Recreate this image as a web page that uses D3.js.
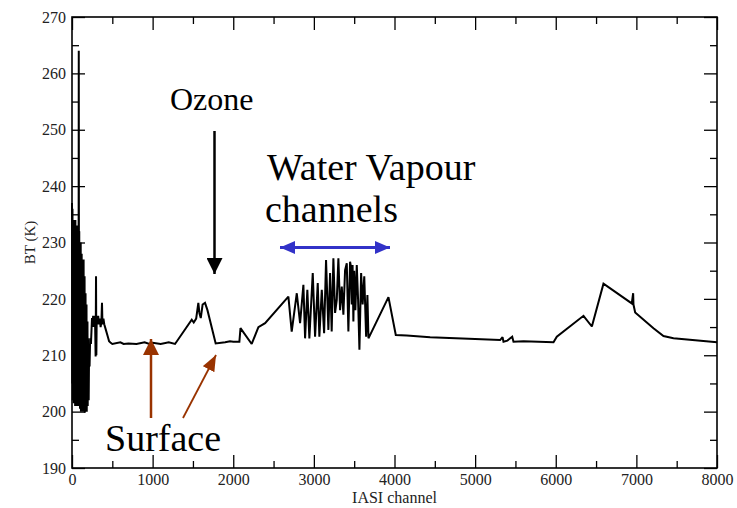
<!DOCTYPE html>
<html>
<head>
<meta charset="utf-8">
<script src="https://cdn.jsdelivr.net/npm/d3@7"></script>
<style>
  html, body { margin: 0; padding: 0; background: #fff; }
  svg { display: block; }
  text { font-family: "Liberation Serif", "Times New Roman", serif; }
</style>
</head>
<body>
<svg id="chart" width="737" height="508"></svg>
<script>
// IASI channel index and brightness temperature (K)
const channels = [
  0, 3, 6, 9, 12, 15, 18, 21, 24, 27, 30, 33, 36, 39, 42, 45, 48, 51, 54, 57,
  60, 63, 66, 69, 72, 75, 78, 81, 84, 87, 90, 93, 96, 99, 102, 105, 108, 111, 114, 117,
  120, 123, 126, 129, 132, 135, 138, 141, 144, 147, 150, 153, 156, 159, 162, 165, 168, 171, 174, 177,
  180, 183, 186, 189, 192, 195, 198, 201, 204, 207, 212, 218, 225, 235, 248, 255, 262, 270, 278, 286,
  293, 298, 302, 306, 315, 325, 335, 345, 355, 365, 372, 378, 390, 400, 420, 440, 460, 480, 500, 600,
  640, 700, 800, 900, 960, 1000, 1100, 1200, 1278, 1485, 1510, 1540, 1567, 1580, 1597, 1620, 1650, 1680, 1782, 1900,
  1960, 2000, 2076, 2090, 2105, 2229, 2312, 2395, 2684, 2725, 2788, 2829, 2870, 2891, 2919, 2944, 2986, 3015, 3048, 3068,
  3098, 3127, 3151, 3180, 3201, 3221, 3242, 3263, 3284, 3304, 3325, 3346, 3366, 3387, 3408, 3428, 3449, 3460, 3470, 3480,
  3490, 3500, 3515, 3532, 3548, 3565, 3586, 3605, 3625, 3648, 3664, 3677, 3925, 4016, 4152, 4442, 5000, 5310, 5340, 5352,
  5400, 5460, 5476, 5600, 5972, 6013, 6344, 6448, 6592, 6943, 6960, 6964, 6985, 7212, 7336, 7460, 8000
];
const bt = [
  237, 205, 236, 202, 230, 203, 234, 201.5, 228, 202, 233, 203, 225, 201, 234, 204, 229, 201, 232, 206,
  227, 201, 233, 203, 230, 201, 226, 205, 264, 201, 232, 203, 229, 200.5, 227, 204, 230, 200, 225, 203,
  228, 201, 222, 205, 226, 200, 224, 202, 227, 200, 221, 204, 224, 199.8, 219, 202, 221, 200, 217, 203,
  219, 200, 214, 205, 216, 201, 213, 204, 211, 202, 211, 208, 213, 212, 216.6, 215, 217, 215, 217, 216,
  209.8, 224, 210, 216, 215.5, 217, 215.5, 216.5, 215, 216, 219.3, 215.5, 216.5, 215.5, 214.5, 213.5, 212.5, 212.2, 212, 212.3,
  212, 212.1, 212, 212.3, 212, 212.2, 212, 212.3, 212, 216.3, 215.8, 216.5, 219.3, 217.5, 216.6, 219, 219.3, 218, 212.1, 212.3,
  212.5, 212.4, 212.4, 214.8, 214.5, 212, 215, 215.7, 220.4, 214.2, 221, 215.7, 222.5, 213, 221.6, 213, 224.6, 213.3, 222.8, 213.3,
  221.6, 213.9, 226.9, 214.5, 224.6, 214.2, 227.2, 217.5, 219.8, 227.2, 218, 222.2, 217.2, 225.1, 226.3, 214.2, 226.6, 225.7, 219, 226,
  216, 225, 218, 226, 220, 211, 224.6, 219, 224, 213.3, 220.7, 213, 220.3, 213.6, 213.5, 213.2, 212.9, 212.7, 213.2, 212.4,
  212.6, 213.3, 212.4, 212.5, 212.3, 213.3, 217, 215.1, 222.7, 219.2, 221, 219, 217.6, 214.8, 213.4, 213, 212.3
];
const xMajorTicks = [0, 1000, 2000, 3000, 4000, 5000, 6000, 7000, 8000];
const xMinorTicks = [500, 1500, 2500, 3500, 4500, 5500, 6500, 7500];
const yMajorTicks = [190, 200, 210, 220, 230, 240, 250, 260, 270];
const yMinorTicks = [195, 205, 215, 225, 235, 245, 255, 265];

(function draw() {
  const svg = d3.select("#chart");
  const pl = 72, pr = 717, pt = 17, pb = 468;

  const x = d3.scaleLinear().domain([0, 8000]).range([pl, pr]);
  const y = d3.scaleLinear().domain([190, 270]).range([pb, pt]);

  const major = 13, minor = 7;
  const fmt = d3.format("d");

  function styleAxis(g) {
    g.select(".domain").remove();
    g.selectAll(".tick line").attr("stroke", "#000").attr("stroke-width", 1.3);
    g.selectAll(".tick text")
      .attr("fill", "#222")
      .style("font-family", "'Liberation Serif', serif")
      .style("font-size", "16px");
  }

  // bottom axis
  svg.append("g").attr("transform", `translate(0,${pb})`)
    .call(d3.axisBottom(x).tickValues(xMajorTicks).tickFormat(fmt).tickSize(-major).tickSizeOuter(0).tickPadding(6))
    .call(styleAxis);
  svg.append("g").attr("transform", `translate(0,${pb})`)
    .call(d3.axisBottom(x).tickValues(xMinorTicks).tickFormat("").tickSize(-minor).tickSizeOuter(0))
    .call(styleAxis);
  // top axis (ticks only)
  svg.append("g").attr("transform", `translate(0,${pt})`)
    .call(d3.axisTop(x).tickValues(xMajorTicks).tickFormat("").tickSize(-major).tickSizeOuter(0))
    .call(styleAxis);
  svg.append("g").attr("transform", `translate(0,${pt})`)
    .call(d3.axisTop(x).tickValues(xMinorTicks).tickFormat("").tickSize(-minor).tickSizeOuter(0))
    .call(styleAxis);
  // left axis
  svg.append("g").attr("transform", `translate(${pl},0)`)
    .call(d3.axisLeft(y).tickValues(yMajorTicks).tickFormat(fmt).tickSize(-major).tickSizeOuter(0).tickPadding(6))
    .call(styleAxis);
  svg.append("g").attr("transform", `translate(${pl},0)`)
    .call(d3.axisLeft(y).tickValues(yMinorTicks).tickFormat("").tickSize(-minor).tickSizeOuter(0))
    .call(styleAxis);
  // right axis (ticks only)
  svg.append("g").attr("transform", `translate(${pr},0)`)
    .call(d3.axisRight(y).tickValues(yMajorTicks).tickFormat("").tickSize(-major).tickSizeOuter(0))
    .call(styleAxis);
  svg.append("g").attr("transform", `translate(${pr},0)`)
    .call(d3.axisRight(y).tickValues(yMinorTicks).tickFormat("").tickSize(-minor).tickSizeOuter(0))
    .call(styleAxis);

  // frame
  svg.append("rect")
    .attr("x", pl).attr("y", pt)
    .attr("width", pr - pl).attr("height", pb - pt)
    .attr("fill", "none").attr("stroke", "#000").attr("stroke-width", 1.6);

  // spectrum
  const pts = channels.map((c, i) => [c, bt[i]]);
  svg.append("path")
    .datum(pts)
    .attr("fill", "none")
    .attr("stroke", "#000")
    .attr("stroke-width", 2)
    .attr("stroke-linejoin", "miter")
    .attr("stroke-miterlimit", 2)
    .attr("d", d3.line().x(d => x(d[0])).y(d => y(d[1])));

  // axis titles
  svg.append("text")
    .attr("x", (pl + pr) / 2).attr("y", 503)
    .attr("text-anchor", "middle")
    .attr("fill", "#222")
    .style("font-size", "16px")
    .text("IASI channel");
  svg.append("text")
    .attr("transform", `translate(35,${(pt + pb) / 2}) rotate(-90)`)
    .attr("text-anchor", "middle")
    .attr("fill", "#222")
    .style("font-size", "15px")
    .text("BT (K)");

  // annotation arrows
  const defs = svg.append("defs");
  function head(id, color, w, h) {
    defs.append("marker")
      .attr("id", id)
      .attr("viewBox", `0 0 ${w} ${h}`)
      .attr("refX", w).attr("refY", h / 2)
      .attr("markerWidth", w).attr("markerHeight", h)
      .attr("markerUnits", "userSpaceOnUse")
      .attr("orient", "auto-start-reverse")
      .append("path")
      .attr("d", `M0,0L${w},${h / 2}L0,${h}Z`)
      .attr("fill", color);
  }
  head("hBlack", "#000", 16, 16);
  head("hBlue", "#3232c8", 15, 13);
  head("hBrown", "#993300", 16, 16);
  head("hBrownS", "#993300", 16, 13);

  // Ozone
  svg.append("text")
    .attr("x", 170).attr("y", 110)
    .attr("fill", "#000")
    .style("font-size", "32px")
    .text("Ozone");
  svg.append("line")
    .attr("x1", 214.5).attr("y1", 131).attr("x2", 214.5).attr("y2", 274)
    .attr("stroke", "#000").attr("stroke-width", 2.5)
    .attr("marker-end", "url(#hBlack)");

  // Water vapour
  svg.append("text")
    .attr("x", 267).attr("y", 180)
    .attr("fill", "#000")
    .style("font-size", "38px")
    .text("Water Vapour");
  svg.append("text")
    .attr("x", 265).attr("y", 222)
    .attr("fill", "#000")
    .style("font-size", "38px")
    .text("channels");
  svg.append("line")
    .attr("x1", 280).attr("y1", 247.5).attr("x2", 390).attr("y2", 247.5)
    .attr("stroke", "#3232c8").attr("stroke-width", 3)
    .attr("marker-start", "url(#hBlue)")
    .attr("marker-end", "url(#hBlue)");

  // Surface
  svg.append("text")
    .attr("x", 105).attr("y", 451)
    .attr("fill", "#000")
    .style("font-size", "38px")
    .text("Surface");
  svg.append("line")
    .attr("x1", 151).attr("y1", 418).attr("x2", 151).attr("y2", 339)
    .attr("stroke", "#993300").attr("stroke-width", 2.5)
    .attr("marker-end", "url(#hBrown)");
  svg.append("line")
    .attr("x1", 183).attr("y1", 418).attr("x2", 216).attr("y2", 355)
    .attr("stroke", "#993300").attr("stroke-width", 1.8)
    .attr("marker-end", "url(#hBrownS)");
})();
</script>
</body>
</html>
